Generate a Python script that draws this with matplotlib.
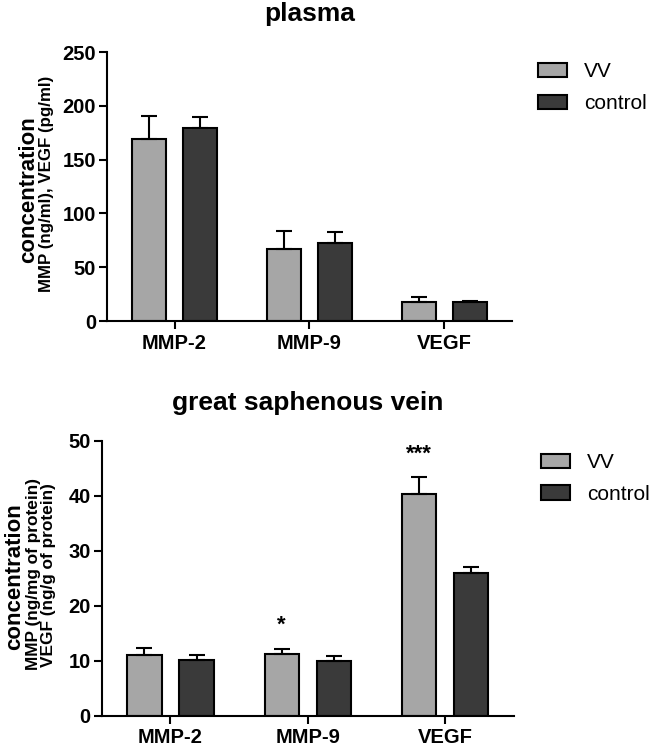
import matplotlib
matplotlib.use("Agg")
import matplotlib.pyplot as plt
from matplotlib.patches import Patch
import numpy as np

plt.rcParams['font.family'] = ['Liberation Sans', 'DejaVu Sans']

categories = ["MMP-2", "MMP-9", "VEGF"]
series = ["VV", "control"]

plasma_vv = [169, 67, 18]
plasma_vv_err = [21.5, 17, 4]
plasma_ctrl = [179.5, 73, 17.7]
plasma_ctrl_err = [10, 10, 1]

gsv_vv = [11.0, 11.2, 40.4]
gsv_vv_err = [1.4, 1.0, 3.1]
gsv_ctrl = [10.2, 10.0, 25.9]
gsv_ctrl_err = [0.9, 0.9, 1.1]
gsv_marks = ["", "*", "***"]
gsv_mark_y = [0, 16.5, 47.5]

c_vv = "#a6a6a6"
c_ctrl = "#3a3a3a"

fig = plt.figure(figsize=(6.57, 7.46), dpi=100)

def panel(ax, vv, vve, ct, cte, ylim, yticks, title):
    x = np.arange(len(categories))
    w = 0.25
    off = 0.19
    ekw = dict(elinewidth=1.5, capthick=1.5, ecolor="black")
    ax.bar(x - off, vv, w, color=c_vv, edgecolor="black", linewidth=1.5,
           yerr=[np.zeros(len(vv)), vve], capsize=5.5, error_kw=ekw, zorder=2)
    ax.bar(x + off, ct, w, color=c_ctrl, edgecolor="black", linewidth=1.5,
           yerr=[np.zeros(len(ct)), cte], capsize=5.5, error_kw=ekw, zorder=2)
    ax.set_xlim(-0.5, 2.5)
    ax.set_ylim(*ylim)
    ax.set_yticks(yticks)
    ax.set_xticks(x)
    ax.set_xticklabels(categories, fontsize=14.5, fontweight="bold")
    for lab in ax.get_yticklabels():
        lab.set_fontsize(14.5)
        lab.set_fontweight("bold")
    for s in ["top", "right"]:
        ax.spines[s].set_visible(False)
    for s in ["left", "bottom"]:
        ax.spines[s].set_linewidth(1.5)
    ax.tick_params(axis="y", direction="out", length=6, width=1.5, pad=2)
    ax.tick_params(axis="x", direction="out", length=6, width=1.5, pad=3)
    ax.set_title(title, fontsize=19, fontweight="bold", pad=22.5, x=0.5)

ax1 = fig.add_axes([0.163, 0.5697, 0.616, 0.3603])
panel(ax1, plasma_vv, plasma_vv_err, plasma_ctrl, plasma_ctrl_err,
      (0, 250), [0, 50, 100, 150, 200, 250], "plasma")

ax2 = fig.add_axes([0.155, 0.0406, 0.627, 0.3684])
panel(ax2, gsv_vv, gsv_vv_err, gsv_ctrl, gsv_ctrl_err,
      (0, 50), [0, 10, 20, 30, 40, 50], "great saphenous vein")
for i, (m, yy) in enumerate(zip(gsv_marks, gsv_mark_y)):
    if m:
        ax2.text(i - 0.19, yy, m, ha="center", va="center", fontsize=16, fontweight="bold")

handles = [Patch(facecolor=c_vv, edgecolor="black", linewidth=1.5, label=series[0]),
           Patch(facecolor=c_ctrl, edgecolor="black", linewidth=1.5, label=series[1])]
leg_kw = dict(loc="upper left", frameon=False, fontsize=15, handlelength=1.4,
              handleheight=0.67, handletextpad=0.8, labelspacing=0.62,
              borderaxespad=0)
fig.legend(handles=handles, bbox_to_anchor=(0.806, 0.928), **leg_kw)
fig.legend(handles=handles, bbox_to_anchor=(0.811, 0.404), **leg_kw)

fig.text(0.0434, 0.746, "concentration", rotation=90, ha="center", va="center",
         fontsize=16, fontweight="bold")
fig.text(0.0715, 0.753, "MMP (ng/ml), VEGF (pg/ml)", rotation=90, ha="center",
         va="center", fontsize=12.2, fontweight="bold")

fig.text(0.0228, 0.2272, "concentration", rotation=90, ha="center", va="center",
         fontsize=16, fontweight="bold")
fig.text(0.051, 0.2306, "MMP (ng/mg of protein)", rotation=90, ha="center",
         va="center", fontsize=12.4, fontweight="bold")
fig.text(0.0735, 0.229, "VEGF (ng/g of protein)", rotation=90, ha="center",
         va="center", fontsize=12.4, fontweight="bold")

fig.savefig("out.png", dpi=100)
